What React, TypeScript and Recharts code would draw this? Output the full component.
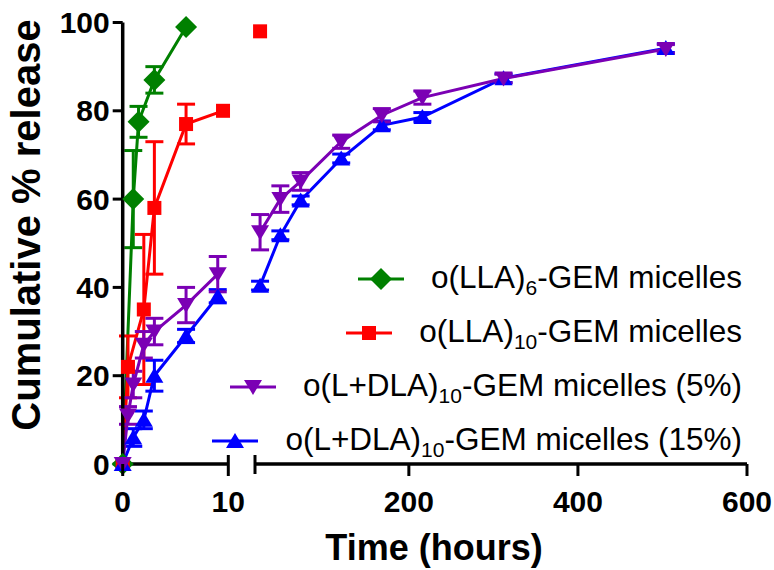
import { LineChart, Line, XAxis, YAxis, ErrorBar } from "recharts";

const FONT = '"Liberation Sans", Arial, Helvetica, sans-serif';
const W = 774;
const H = 570;

// broken time axis: 0-10 h on the left piece, 18-600 h on the right piece
const EARLY_DOMAIN = [0, 10];
const LATE_DOMAIN = [18, 600];
const EARLY_TICKS = [0, 10];
const LATE_TICKS = [18, 200, 400, 600];
const RELEASE_TICKS = [0, 20, 40, 60, 80, 100];

// o(LLA)6-GEM micelles
const LLA6_HOURS = [0, 1, 1.5, 3, 6];
const LLA6_RELEASE = [0, 60, 77.5, 87, 99];
const LLA6_SD = [0, 11, 3.5, 3, 0];

// o(LLA)10-GEM micelles
const LLA10_HOURS = [0, 0.5, 2, 3, 6, 9.5, 24];
const LLA10_RELEASE = [0, 22, 35, 58, 77, 80, 98];
const LLA10_SD = [0, 7, 17, 15, 4.5, 0, 0];

// o(L+DLA)10-GEM micelles (5%)
const LDLA5_HOURS = [0, 0.5, 1, 2, 3, 6, 9, 24, 48, 72, 120, 168, 216, 312, 504];
const LDLA5_RELEASE = [0, 11, 18, 27, 30, 36, 43, 52.5, 60, 64, 73, 79, 83, 87.3, 94];
const LDLA5_SD = [0, 2, 3, 3, 3, 4, 4, 4, 3, 2, 1.5, 1.5, 1.5, 1, 1];

// o(L+DLA)10-GEM micelles (15%)
const LDLA15_HOURS = [0, 1, 2, 3, 6, 9, 24, 48, 72, 120, 168, 216, 312, 504];
const LDLA15_RELEASE = [0, 6, 10, 20, 29, 38, 40.4, 51.8, 59.7, 69.2, 76.7, 78.6, 87.4, 94.2];
const LDLA15_SD = [0, 2, 2, 3.5, 1.5, 1.5, 1, 1, 1, 1, 1, 1, 1, 1];

const GREEN = "#008000";
const RED = "#ff0000";
const PURPLE = "#7b00b4";
const BLUE = "#0000ff";

type Row = { hour: number; release: number; sd?: number };
type Marker = "diamond" | "square" | "down" | "up";

const rows = (hours: number[], release: number[], sd: number[]): Row[] =>
  hours.map((hour, i) => ({ hour, release: release[i], sd: sd[i] > 0 ? sd[i] : undefined }));

const SERIES = [
  { key: "lla6", label: "o(LLA)", sub: "6", tail: "-GEM micelles", color: GREEN, marker: "diamond" as Marker, data: rows(LLA6_HOURS, LLA6_RELEASE, LLA6_SD) },
  { key: "lla10", label: "o(LLA)", sub: "10", tail: "-GEM micelles", color: RED, marker: "square" as Marker, data: rows(LLA10_HOURS, LLA10_RELEASE, LLA10_SD) },
  { key: "ldla5", label: "o(L+DLA)", sub: "10", tail: "-GEM micelles (5%)", color: PURPLE, marker: "down" as Marker, data: rows(LDLA5_HOURS, LDLA5_RELEASE, LDLA5_SD) },
  { key: "ldla15", label: "o(L+DLA)", sub: "10", tail: "-GEM micelles (15%)", color: BLUE, marker: "up" as Marker, data: rows(LDLA15_HOURS, LDLA15_RELEASE, LDLA15_SD) },
];
// purple is painted over blue in the original
const DRAW_ORDER = ["lla6", "lla10", "ldla15", "ldla5"];

function shape(kind: Marker, cx: number, cy: number, color: string, key?: string) {
  switch (kind) {
    case "diamond":
      return <polygon key={key} points={`${cx},${cy - 11} ${cx + 11},${cy} ${cx},${cy + 11} ${cx - 11},${cy}`} fill={color} />;
    case "square":
      return <rect key={key} x={cx - 7} y={cy - 7} width={14} height={14} fill={color} />;
    case "down":
      return <polygon key={key} points={`${cx - 9},${cy - 7} ${cx + 9},${cy - 7} ${cx},${cy + 8}`} fill={color} />;
    default:
      return <polygon key={key} points={`${cx - 9},${cy + 7} ${cx + 9},${cy + 7} ${cx},${cy - 8}`} fill={color} />;
  }
}

const TICK_SIZE = 12;
const TICK_GAP = 15;

function TimeTick(props: any) {
  const { x, y, payload, breakValue, hideValue } = props;
  const axisY = y - TICK_SIZE - TICK_GAP;
  const v = payload.value;
  if (v === hideValue) {
    return <line x1={x} x2={x} y1={axisY - 9} y2={axisY + 10} stroke="#000" strokeWidth={3} />;
  }
  return (
    <g>
      <line
        x1={x}
        x2={x}
        y1={v === breakValue ? axisY - 9 : axisY}
        y2={axisY + TICK_SIZE}
        stroke="#000"
        strokeWidth={3}
      />
      <text x={x} y={y} dy="0.71em" textAnchor="middle" fontFamily={FONT} fontSize={30} fontWeight={700} fill="#000">
        {v}
      </text>
    </g>
  );
}

function Panel({ early }: { early: boolean }) {
  const domain = early ? EARLY_DOMAIN : LATE_DOMAIN;
  const inRange = (r: Row) => r.hour >= domain[0] && r.hour <= domain[1];
  const margin = early
    ? { top: 22.5, right: W - 228.3, bottom: 46, left: 0 }
    : { top: 22.5, right: 27, bottom: 46, left: 255 };
  return (
    <LineChart width={W} height={H} margin={margin}>
      <XAxis
        type="number"
        dataKey="hour"
        domain={domain}
        ticks={early ? EARLY_TICKS : LATE_TICKS}
        interval={0}
        height={60}
        axisLine={{ stroke: "#000", strokeWidth: 3.5 }}
        tickLine={false}
        tickSize={TICK_SIZE}
        tickMargin={TICK_GAP}
        tick={(p: any) => (
          <TimeTick {...p} breakValue={early ? 10 : undefined} hideValue={early ? undefined : LATE_DOMAIN[0]} />
        )}
      />
      <YAxis
        type="number"
        domain={[0, 100]}
        ticks={RELEASE_TICKS}
        interval={0}
        hide={!early}
        width={122.7}
        axisLine={{ stroke: "#000", strokeWidth: 3.5 }}
        tickLine={{ stroke: "#000", strokeWidth: 3 }}
        tickSize={10}
        tickMargin={3}
        tick={{ fontFamily: FONT, fontSize: 30, fontWeight: 700, fill: "#000" }}
      />
      {DRAW_ORDER.map((k) => {
        const s = SERIES.find((x) => x.key === k)!;
        return (
          <Line
            key={s.key}
            data={s.data.filter(inRange)}
            dataKey="release"
            type="linear"
            stroke={s.color}
            strokeWidth={3}
            activeDot={false}
            isAnimationActive={false}
            dot={(p: any) =>
              p.cx == null || p.cy == null ? null : shape(s.marker, p.cx, p.cy, s.color, `${s.key}-${p.index}`)
            }
          >
            <ErrorBar dataKey="sd" direction="y" width={9} stroke={s.color} strokeWidth={3} />
          </Line>
        );
      })}
    </LineChart>
  );
}

function LegendBox() {
  return (
    <div style={{ position: "absolute", left: 0, top: 252, width: 742, display: "flex", flexDirection: "column", alignItems: "flex-end" }}>
      {SERIES.map((s) => (
        <div key={s.key} style={{ height: 54, display: "flex", alignItems: "center" }}>
          <svg width={46} height={24} style={{ marginRight: 27 }}>
            <line x1={0} x2={46} y1={12} y2={12} stroke={s.color} strokeWidth={3} />
            {shape(s.marker, 23, 12, s.color)}
          </svg>
          <span style={{ fontFamily: FONT, fontSize: 31.5, color: "#000", whiteSpace: "nowrap", lineHeight: "36px" }}>
            {s.label}
            <span style={{ fontSize: 21, position: "relative", top: 7 }}>{s.sub}</span>
            {s.tail}
          </span>
        </div>
      ))}
    </div>
  );
}

export default function App() {
  return (
    <div style={{ position: "absolute", left: 0, top: 0, width: W, height: H, background: "#fff", overflow: "hidden" }}>
      <div style={{ position: "absolute", left: 0, top: 0 }}>
        <Panel early />
      </div>
      <div style={{ position: "absolute", left: 0, top: 0 }}>
        <Panel early={false} />
      </div>
      <LegendBox />
      <div
        style={{
          position: "absolute",
          left: 26 - 225,
          top: 225 - 23,
          width: 450,
          height: 46,
          lineHeight: "46px",
          textAlign: "center",
          transform: "rotate(-90deg)",
          fontFamily: FONT,
          fontWeight: 700,
          fontSize: 40,
          color: "#000",
        }}
      >
        Cumulative % release
      </div>
      <div
        style={{
          position: "absolute",
          left: 434 - 150,
          top: 528,
          width: 300,
          lineHeight: "40px",
          textAlign: "center",
          fontFamily: FONT,
          fontWeight: 700,
          fontSize: 36,
          color: "#000",
        }}
      >
        Time (hours)
      </div>
    </div>
  );
}
